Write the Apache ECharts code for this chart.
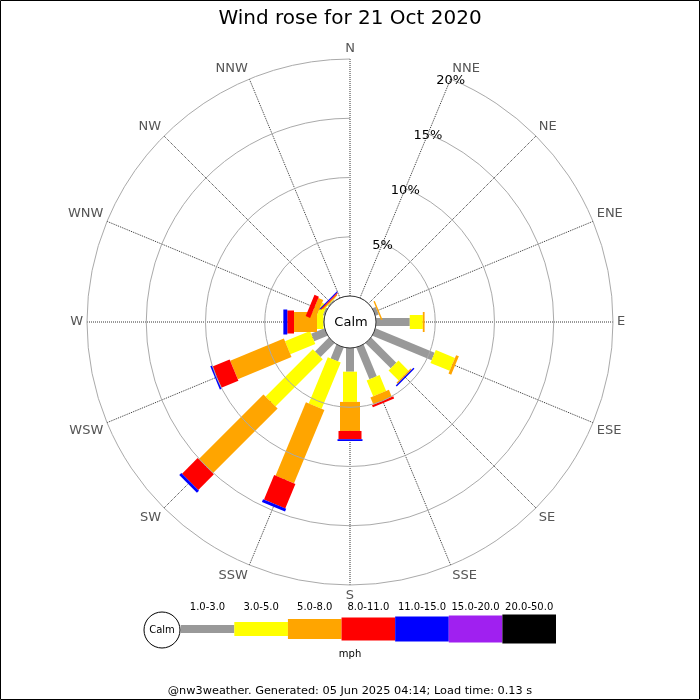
<!DOCTYPE html>
<html><head><meta charset="utf-8">
<script src="https://cdn.jsdelivr.net/npm/echarts@6/dist/echarts.min.js"></script>
<style>html,body{margin:0;padding:0;background:#fff}#c{width:700px;height:700px}</style>
</head><body><div id="c"></div>
<script>
// ---- data ----
const DIRECTIONS = ['N','NNE','NE','ENE','E','ESE','SE','SSE','S','SSW','SW','WSW','W','WNW','NW','NNW'];
const SPEED_CLASSES = ['1.0-3.0','3.0-5.0','5.0-8.0','8.0-11.0','11.0-15.0','15.0-20.0','20.0-50.0'];
const RADIAL_MAX = 20;
const RADIAL_STEP = 5;
// percentage of time per direction, for each speed class (N first, clockwise)
const PCT_1_3   = [0, 0, 0, 0.30, 2.85, 5.40, 3.00, 2.90, 2.00, 1.27, 1.65, 1.22, 0.05, 0.15, 0.10, 0];
const PCT_3_5   = [0, 0, 0, 0,    1.10, 1.75, 1.20, 1.45, 2.55, 4.22, 5.64, 2.28, 0.54, 0.45, 0.05, 0];
const PCT_5_8   = [0, 0, 0, 0.12, 0.15, 0.25, 0.12, 0.65, 2.45, 6.70, 7.73, 4.90, 1.94, 0.45, 0.10, 0];
const PCT_8_11  = [0, 0, 0, 0,    0,    0,    0,    0.20, 0.70, 2.24, 1.86, 1.56, 0.57, 0.40, 0.08, 0];
const PCT_11_15 = [0, 0, 0, 0,    0,    0,    0.12, 0,    0.15, 0.25, 0.25, 0.17, 0.33, 0,    0.08, 0];
const PCT_15_20 = [0, 0, 0, 0,    0,    0,    0,    0,    0,    0,    0,    0,    0,    0,    0,    0];
const PCT_20_50 = [0, 0, 0, 0,    0,    0,    0,    0,    0,    0,    0,    0,    0,    0,    0,    0];
const CLASS_VALUES = [PCT_1_3, PCT_3_5, PCT_5_8, PCT_8_11, PCT_11_15, PCT_15_20, PCT_20_50];

// ---- style ----
const FONT = 'DejaVu Sans';
const COLORS = ['#999999','#ffff00','#ffa500','#ff0000','#0000ff','#a020f0','#000000'];
const THICK = [8, 14, 20, 23, 25, 27, 29];
const CX = 350, CY = 322;

// angle axis starts at NNE so the radial labels sit on the NNE spoke
const angleCats = DIRECTIONS.slice(1).concat([DIRECTIONS[0]]);
const segs = [];
const cum = DIRECTIONS.map(() => 0);
CLASS_VALUES.forEach((arr, k) => {
  arr.forEach((v, i) => {
    if (v > 0) segs.push([angleCats.indexOf(DIRECTIONS[i]), cum[i], cum[i] + v, k]);
    cum[i] += v;
  });
});

function renderRose(params, api) {
  const a = api.value(0), r0 = api.value(1), r1 = api.value(2), k = api.value(3);
  const pA = api.coord([0, a]), pB = api.coord([RADIAL_MAX, a]);
  const dx = pB[0] - pA[0], dy = pB[1] - pA[1], L = Math.hypot(dx, dy);
  const nx = -dy / L, ny = dx / L, h = THICK[k] / 2;
  const p0 = api.coord([r0, a]), p1 = api.coord([r1, a]);
  return {
    type: 'polygon',
    shape: { points: [
      [p0[0] + nx * h, p0[1] + ny * h], [p1[0] + nx * h, p1[1] + ny * h],
      [p1[0] - nx * h, p1[1] - ny * h], [p0[0] - nx * h, p0[1] - ny * h]] },
    style: { fill: COLORS[k] }
  };
}

function renderKey(params, api) {
  const k = api.value(0);
  const c = api.coord([k, 0.5]);
  const bw = api.size([1, 0])[0];
  return { type: 'rect', shape: { x: c[0] - bw / 2, y: c[1] - THICK[k] / 2, width: bw, height: THICK[k] },
           style: { fill: COLORS[k] } };
}

const chart = echarts.init(document.getElementById('c'), null, { renderer: 'canvas' });
chart.setOption({
  animation: false,
  backgroundColor: '#fff',
  textStyle: { fontFamily: FONT },
  title: [
    { text: 'Wind rose for 21 Oct 2020', left: 'center', top: 9, padding: 0,
      textStyle: { fontSize: 20, fontWeight: 'normal', color: '#000', fontFamily: FONT } },
    { text: 'mph', left: 'center', top: 649, padding: 0,
      textStyle: { fontSize: 10, fontWeight: 'normal', color: '#000', fontFamily: FONT } },
    { text: '@nw3weather. Generated: 05 Jun 2025 04:14; Load time: 0.13 s', left: 'center', top: 686, padding: 0,
      textStyle: { fontSize: 11.3, fontWeight: 'normal', color: '#000', fontFamily: FONT } }
  ],
  polar: { center: [CX, CY], radius: [26, 263] },
  angleAxis: {
    type: 'category', data: angleCats, boundaryGap: false, startAngle: 67.5, clockwise: true,
    axisLine: { show: false }, axisTick: { show: false },
    axisLabel: { margin: 4, color: '#555', fontSize: 13, fontFamily: FONT },
    splitLine: { show: true, lineStyle: { color: '#333', type: 'dotted', width: 1 } }
  },
  radiusAxis: {
    type: 'value', min: 0, max: RADIAL_MAX, interval: RADIAL_STEP,
    axisLine: { show: false }, axisTick: { show: false },
    axisLabel: { formatter: v => (v === 0 ? '' : '{p|' + v + '%}'), margin: 0, align: 'center', verticalAlign: 'middle',
                 color: '#000', fontSize: 13, fontFamily: FONT,
                 rich: { p: { color: '#000', fontSize: 13, fontFamily: FONT, padding: [4, 0, 0, 0] } } },
    splitLine: { show: true, lineStyle: { color: '#aaa', width: 1 } },
    z: 10
  },
  grid: { left: 180.7, top: 615, width: 375.3, height: 28 },
  xAxis: { type: 'category', data: SPEED_CLASSES, position: 'top',
           axisLine: { show: false }, axisTick: { show: false },
           axisLabel: { margin: 3, fontSize: 10, color: '#000', interval: 0, fontFamily: FONT } },
  yAxis: { type: 'value', min: 0, max: 1, show: false },
  series: [
    { type: 'custom', coordinateSystem: 'polar', renderItem: renderRose,
      encode: { angle: 0, radius: [1, 2] }, data: segs, silent: true },
    { type: 'custom', coordinateSystem: 'cartesian2d', renderItem: renderKey,
      encode: { x: 0 }, data: SPEED_CLASSES.map((c, k) => [k]), silent: true }
  ],
  graphic: [
    { type: 'rect', shape: { x: 0.5, y: 0.5, width: 699, height: 699 }, style: { fill: 'none', stroke: '#000', lineWidth: 1 }, silent: true },
    { type: 'circle', shape: { cx: CX, cy: CY, r: 26 }, style: { fill: '#fff', stroke: '#333', lineWidth: 1 }, z: 50 },
    { type: 'text', x: CX + 1, y: CY + 1, z: 51, style: { text: 'Calm', fontSize: 13, fontFamily: FONT, fill: '#000', align: 'center', verticalAlign: 'middle' } },
    { type: 'circle', shape: { cx: 162, cy: 630, r: 18 }, style: { fill: '#fff', stroke: '#000', lineWidth: 1 }, z: 50 },
    { type: 'text', x: 162, y: 630, z: 51, style: { text: 'Calm', fontSize: 10, fontFamily: FONT, fill: '#000', align: 'center', verticalAlign: 'middle' } }
  ]
});
</script>
</body></html>
